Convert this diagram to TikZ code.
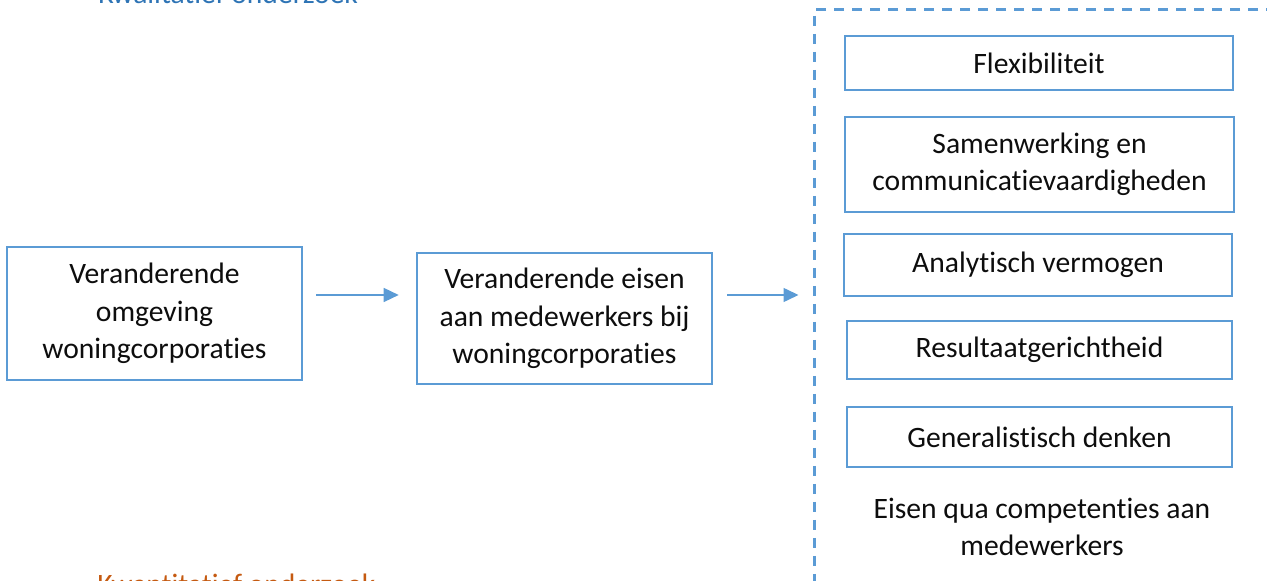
\documentclass[tikz,border=0pt]{standalone}
\usepackage{fontspec}
\setmainfont[Ligatures=NoCommon]{Carlito}
\usetikzlibrary{arrows.meta,positioning,calc}
\definecolor{kaderblauw}{HTML}{5B9BD5}
\definecolor{kwalblauw}{HTML}{2E74B5}
\definecolor{kwantoranje}{HTML}{C55A11}
\definecolor{tekst}{HTML}{0D0D0D}
\tikzset{
  eisbox/.style={draw=kaderblauw, line width=1.3pt, fill=white, align=center,
                 text=tekst, inner sep=0pt,
                 font=\fontsize{14.8}{18.75}\selectfont},
  kader/.style={draw=kaderblauw, line width=1.5pt, dash pattern=on 5pt off 4pt,
                inner sep=0pt},
  labeltekst/.style={inner sep=0pt, align=center, text=tekst,
                     font=\fontsize{14.8}{18.75}\selectfont},
  arr/.style={-{Triangle[length=7.5pt, width=7pt]}, line width=0.75pt, color=kaderblauw}}
\begin{document}
\begin{tikzpicture}[x=0.5pt, y=-0.5pt]
  \useasboundingbox (0,0) rectangle (1267,581);
  % kopjes
  \node[labeltekst, anchor=base west, text=kwalblauw] (kwal) at (98,4) {Kwalitatief onderzoek};
  \node[labeltekst, anchor=base west, text=kwantoranje] (kwant) at (97,595) {Kwantitatief onderzoek};
  % kader met competenties
  \node[kader, minimum width=238pt, minimum height=295pt] (kader) at (1052,305) {};
  \node[eisbox, minimum width=194pt, minimum height=27pt] (flex) at (1039,63) {Flexibiliteit};
  \node[eisbox, minimum width=194.5pt, minimum height=47.5pt] (samen) at (1039.5,164.5)
    {Samenwerking en\\communicatievaardigheden};
  \node[eisbox, minimum width=194pt, minimum height=31pt] (analyt) at (1038,265) {Analytisch vermogen};
  \node[eisbox, minimum width=192.5pt, minimum height=29pt] (result) at (1039.5,350) {Resultaatgerichtheid};
  \node[eisbox, minimum width=192.5pt, minimum height=30pt] (general) at (1039.5,437) {Generalistisch denken};
  \node[labeltekst] (eisen) at (1042,527) {Eisen qua competenties aan\\medewerkers};
  % linker blokken
  \node[eisbox, minimum width=147.5pt, minimum height=66.5pt] (omgeving) at (154.5,313.5)
    {Veranderende\\omgeving\\woningcorporaties};
  \node[eisbox, minimum width=147.5pt, minimum height=65.5pt] (medew) at (564.5,318.5)
    {Veranderende eisen\\aan medewerkers bij\\woningcorporaties};
  % pijlen
  \draw[arr, shorten <=6.5pt, shorten >=8.5pt]
    ([yshift=9.25pt]omgeving.east) -- ([yshift=9.25pt]omgeving.east -| medew.west);
  \draw[arr, shorten <=7pt, shorten >=7pt]
    ([yshift=11.75pt]medew.east) -- ([yshift=11.75pt]medew.east -| kader.west);
\end{tikzpicture}
\end{document}
